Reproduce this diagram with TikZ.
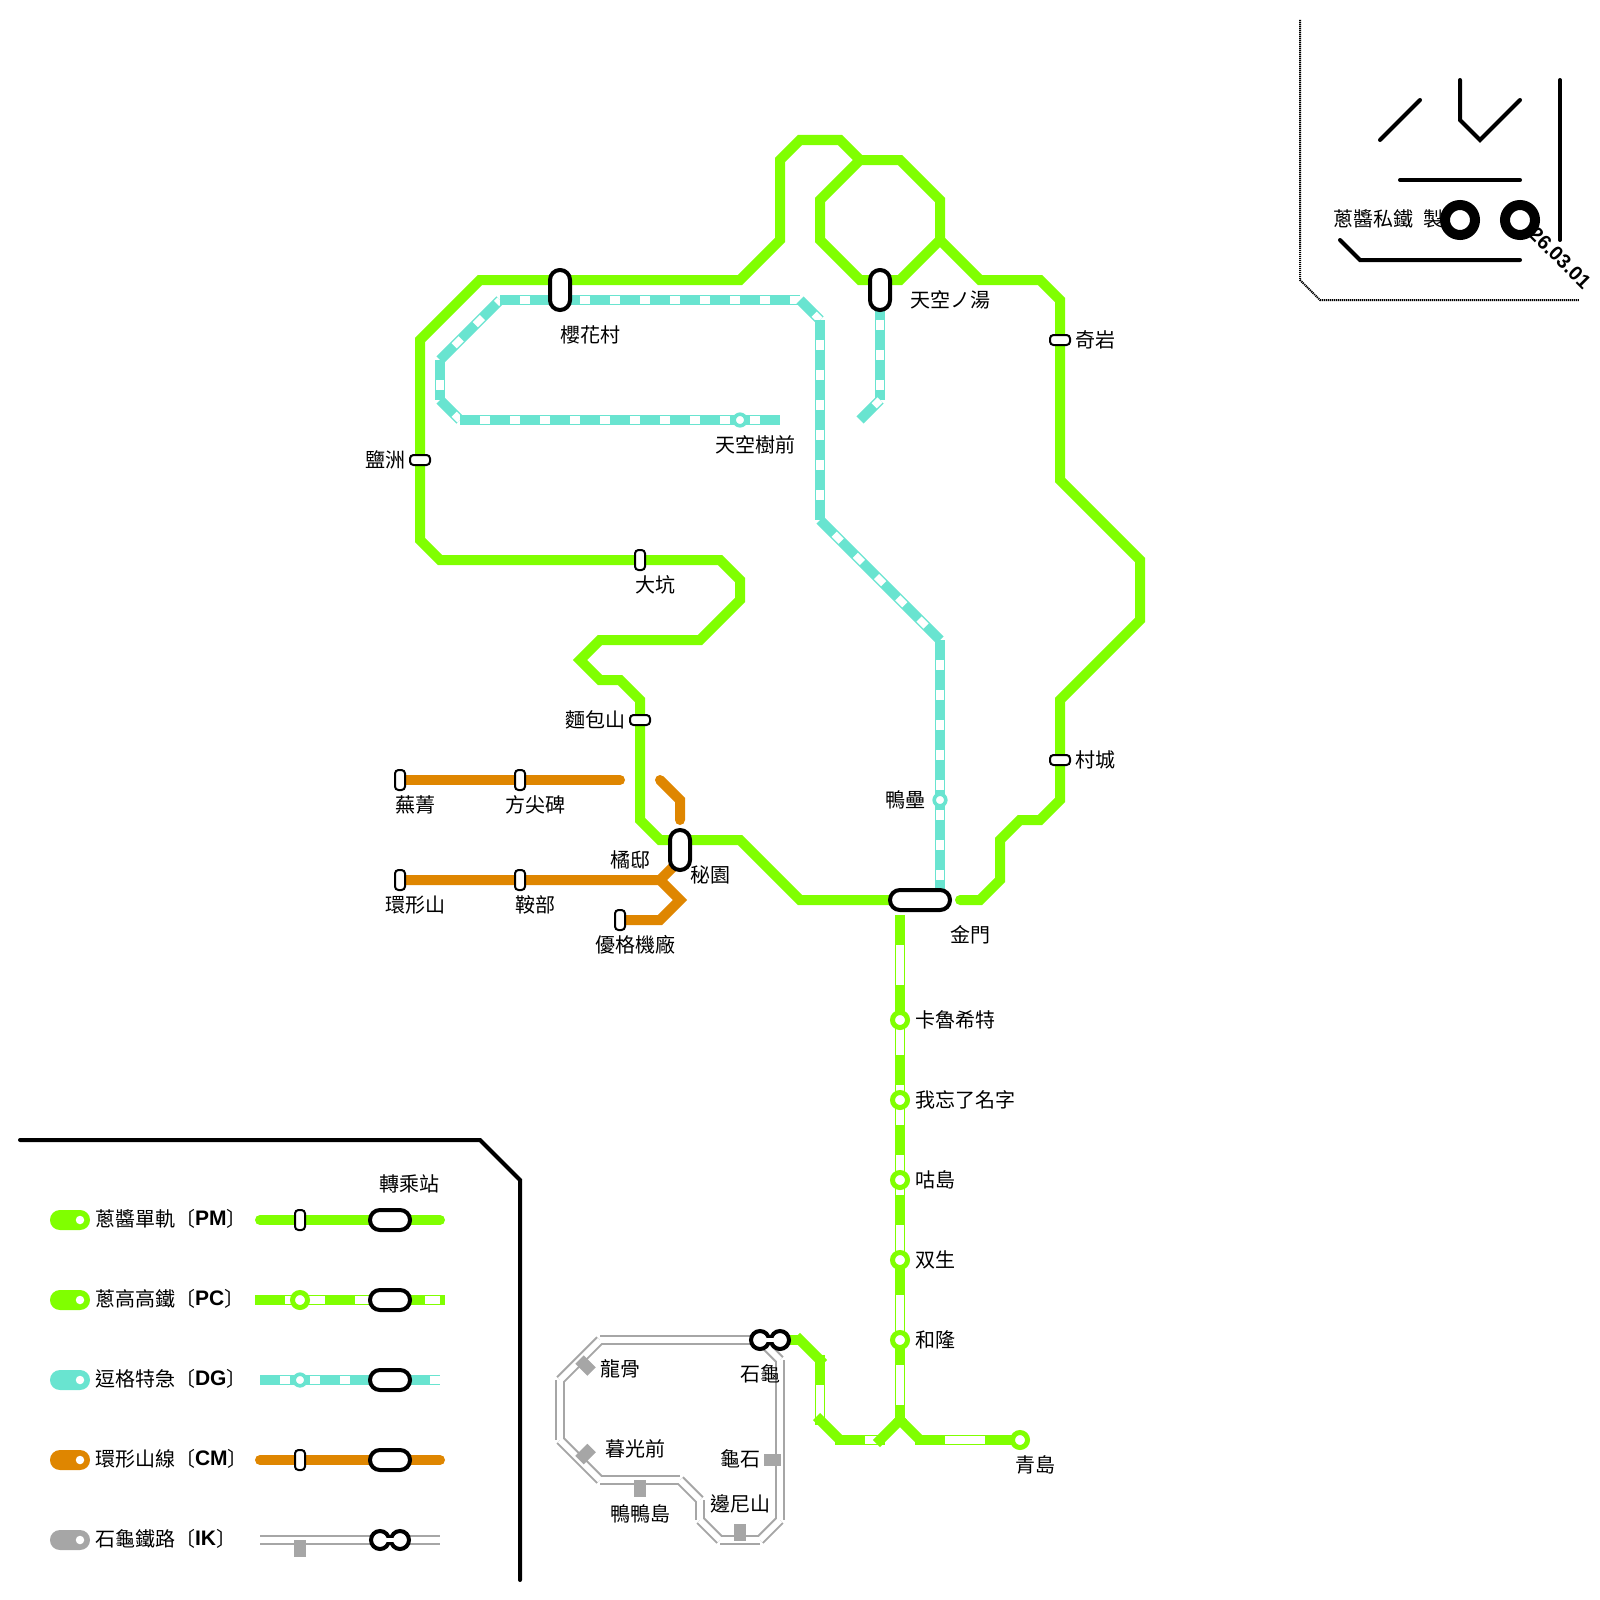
\documentclass[tikz,border=0pt]{standalone}
\usepackage{fontspec}
\setmainfont{Noto Sans CJK TC}
\newfontfamily\latinb{Liberation Sans}[BoldFont={Liberation Sans Bold}]
\usetikzlibrary{backgrounds}
\definecolor{pmg}{HTML}{80FF00}
\definecolor{dgc}{HTML}{69E4D0}
\definecolor{cmo}{HTML}{DF8600}
\definecolor{ikg}{HTML}{A6A6A6}
\tikzset{
  pmline/.style={draw=pmg,line width=10pt,line join=miter,line cap=butt},
  cmline/.style={draw=cmo,line width=10pt,line join=miter,line cap=round},
  pcbase/.style={draw=pmg,line width=10pt,line cap=rect},
  pcbutt/.style={draw=pmg,line width=10pt,line cap=butt},
  pcdash/.style={draw=white,line width=7.4pt,dash pattern=on 40pt off 30pt,dash phase=45pt},
  dgbase/.style={draw=dgc,line width=10pt},
  dgdash/.style={draw=white,line width=7.4pt,dash pattern=on 10pt off 20pt,dash phase=10pt},
  ikbase/.style={draw=ikg,line width=10pt},
  ikin/.style={draw=white,line width=6pt},
  blk/.style={draw=black,line width=4pt,line cap=round,line join=miter},
  frm/.style={draw=black,line width=2pt,dash pattern=on 1.2pt off 0.8pt},
  vstn/.style={rectangle,draw=black,fill=white,line width=2pt,minimum width=10pt,minimum height=20pt,rounded corners=3.5pt,inner sep=0pt,outer sep=0pt},
  hstn/.style={vstn,minimum width=20pt,minimum height=10pt},
  xv/.style={rectangle,draw=black,fill=white,line width=4pt,minimum width=20pt,minimum height=40pt,rounded corners=9.9pt,inner sep=0pt,outer sep=0pt},
  xh/.style={xv,minimum width=40pt,minimum height=20pt},
  xl/.style={xv,minimum width=60pt,minimum height=20pt},
  pcst/.style={circle,draw=pmg,fill=white,line width=5pt,minimum size=15pt,inner sep=0pt,outer sep=0pt},
  dgst/.style={circle,draw=dgc,fill=white,line width=3.6pt,minimum size=11.6pt,inner sep=0pt,outer sep=0pt},
  ikst/.style={rectangle,fill=ikg,minimum width=12pt,minimum height=17pt,inner sep=0pt,outer sep=0pt},
  ikinf/.style={circle,draw=black,fill=white,line width=4pt,minimum size=18pt,inner sep=0pt,outer sep=0pt},
  ring/.style={circle,draw=black,fill=white,line width=10pt,minimum size=30pt,inner sep=0pt,outer sep=0pt},
  lbl/.style={font=\fontsize{20pt}{24pt}\selectfont,text height=17pt,text depth=2pt,inner sep=0pt,outer sep=0pt,text=black},
  swatch/.style={rectangle,minimum width=40pt,minimum height=20pt,rounded corners=9.9pt,inner sep=0pt,outer sep=0pt},
  swdot/.style={circle,fill=white,minimum size=8.5pt,inner sep=0pt,outer sep=0pt},
}
\newcommand{\dgseg}[2]{\draw[dgbase] #1 -- #2; \draw[dgdash] #1 -- #2;}
\newcommand{\pcseg}[2]{\draw[pcbase] #1 -- #2; \draw[pcdash] #1 -- #2;}
\newcommand{\lcode}[1]{\raisebox{0.8pt}{\fontsize{21pt}{24pt}\selectfont\latinb\bfseries #1}}
\begin{document}
\begin{tikzpicture}[x=1pt,y=-1pt]
\useasboundingbox (0,0) rectangle (1600,1600);
% ---------- stations
\node[xv] (yinghua) at (560,290) {};
\node[xv] (tiankongtang) at (880,290) {};
\node[xv] (miyuan) at (680,850) {};
\node[xl] (jinmen) at (920,900) {};
\node[vstn] (dakeng) at (640,560) {};
\node[hstn] (yanzhou) at (420,460) {};
\node[hstn] (qiyan) at (1060,340) {};
\node[hstn] (miantiao) at (640,720) {};
\node[hstn] (cuncheng) at (1060,760) {};
\node[vstn] (wujing) at (400,780) {};
\node[vstn] (fangjian) at (520,780) {};
\node[vstn] (huanxing) at (400,880) {};
\node[vstn] (anbu) at (520,880) {};
\node[vstn] (youge) at (620,920) {};
\node[dgst] (tiankongshu) at (740,420) {};
\node[dgst] (yalei) at (940,800) {};
\node[pcst] (kalu) at (900,1020) {};
\node[pcst] (wowang) at (900,1100) {};
\node[pcst] (gudao) at (900,1180) {};
\node[pcst] (shuangsheng) at (900,1260) {};
\node[pcst] (helong) at (900,1340) {};
\node[pcst] (qingdao) at (1020,1440) {};
\node[ikinf] (shiguiA) at (760,1340) {};
\node[ikinf] (shiguiB) at (780,1340) {};
\draw[white,line width=4.5pt] (shiguiA.center) -- (shiguiB.center);
\node[ikst,rotate=45] (longgu) at (585.5,1365.5) {};
\node[ikst,rotate=-45] (muguang) at (585.5,1454) {};
\node[ikst] (yaya) at (640,1488) {};
\node[ikst] (bianni) at (740,1532) {};
\node[ikst,rotate=90] (guishi) at (772,1460) {};
% ---------- lines, under the stations
\begin{scope}[on background layer]
\draw[pmline] (jinmen.center) -- (800,900) -- (740,840) -- (660,840) -- (640,820) -- (640,700) -- (620,680) -- (600,680) -- (580,660) -- (600,640) -- (700,640) -- (740,600) -- (740,580) -- (720,560) -- (440,560) -- (420,540) -- (420,340) -- (480,280) -- (740,280) -- (780,240) -- (780,160) -- (800,140) -- (840,140) -- (860,160);
\draw[pmline] (860,160) -- (900,160) -- (940,200) -- (940,240) -- (900,280) -- (860,280) -- (820,240) -- (820,200) -- cycle;
\draw[pmline] (940,240) -- (980,280) -- (1040,280) -- (1060,300) -- (1060,480) -- (1140,560) -- (1140,620) -- (1060,700) -- (1060,800) -- (1040,820) -- (1020,820) -- (1000,840) -- (1000,880) -- (980,900) -- (960,900);
\fill[pmg] (960,900) circle (5pt);
% DG
\dgseg{(440,360)}{(500,300)}
\dgseg{(500,300)}{(800,300)}
\dgseg{(800,300)}{(820,320)}
\dgseg{(820,320)}{(820,520)}
\dgseg{(820,520)}{(940,640)}
\dgseg{(940,640)}{(940,900)}
\dgseg{(440,360)}{(440,400)}
\dgseg{(440,400)}{(460,420)}
\dgseg{(460,420)}{(780,420)}
\dgseg{(880,300)}{(880,400)}
\dgseg{(860,420)}{(880,400)}
% PC
\pcseg{(800,1340)}{(820,1360)}
\pcseg{(820,1360)}{(820,1420)}
\pcseg{(840,1440)}{(880,1440)}
\pcseg{(920,1440)}{(1020,1440)}
\draw[pcbutt] (816.5,1416.5) -- (840,1440);
\pcseg{(900,920)}{(900,1420)}
\draw[pcbase] (880,1440) -- (900,1420);
\draw[pcbutt] (920,1440) -- (896.5,1416.5);
\draw[pmline] (shiguiB.center) -- (800,1340);
% CM
\draw[cmline] (wujing.center) -- (620,780);
\draw[cmline] (660,780) -- (680,800) -- (680,820);
\draw[cmline] (huanxing.center) -- (660,880) -- (680,860);
\draw[cmline] (660,880) -- (680,900) -- (660,920) -- (youge.center);
% IK
\foreach \xa/\ya/\xb/\yb in {600/1340/760/1340,560/1380/600/1340,560/1440/560/1380,600/1480/560/1440,680/1480/600/1480,700/1500/680/1480,700/1520/700/1500,720/1540/700/1520,760/1540/720/1540,780/1520/760/1540,780/1360/780/1520,760/1340/780/1360}{\draw[ikbase] (\xa,\ya) -- (\xb,\yb);}
\foreach \xa/\ya/\xb/\yb in {600/1340/760/1340,560/1380/600/1340,560/1440/560/1380,600/1480/560/1440,680/1480/600/1480,700/1500/680/1480,700/1520/700/1500,720/1540/700/1520,760/1540/720/1540,780/1520/760/1540,780/1360/780/1520,760/1340/780/1360}{\draw[ikin] (\xa,\ya) -- (\xb,\yb);}
\end{scope}
% ---------- station labels
\node[lbl] (t1) at (590,335) {櫻花村};
\node[lbl] (t2) at (950,300) {天空ノ湯};
\node[lbl] (t3) at (1095,340) {奇岩};
\node[lbl] (t4) at (385,460) {鹽洲};
\node[lbl] (t5) at (755,445) {天空樹前};
\node[lbl] (t6) at (655,585) {大坑};
\node[lbl] (t7) at (595,720) {麵包山};
\node[lbl] (t8) at (415,805) {蕪菁};
\node[lbl] (t9) at (535,805) {方尖碑};
\node[lbl] (t10) at (415,905) {環形山};
\node[lbl] (t11) at (535,905) {鞍部};
\node[lbl] (t12) at (630,860) {橘邸};
\node[lbl] (t13) at (710,875) {秘園};
\node[lbl] (t14) at (635,945) {優格機廠};
\node[lbl] (t15) at (970,935) {金門};
\node[lbl] (t16) at (905,800) {鴨壘};
\node[lbl] (t17) at (1095,760) {村城};
\node[lbl] (t18) at (955,1020) {卡魯希特};
\node[lbl] (t19) at (965,1100) {我忘了名字};
\node[lbl] (t20) at (935,1180) {咕島};
\node[lbl] (t21) at (935,1260) {双生};
\node[lbl] (t22) at (935,1340) {和隆};
\node[lbl] (t23) at (1035,1465) {青島};
\node[lbl] (t24) at (760,1374) {石龜};
\node[lbl] (t25) at (620,1369) {龍骨};
\node[lbl] (t26) at (635,1449) {暮光前};
\node[lbl] (t27) at (640,1514) {鴨鴨島};
\node[lbl] (t28) at (740,1504) {邊尼山};
\node[lbl] (t29) at (740,1459) {龜石};
% ---------- legend frame
\coordinate (fa) at (20,1140);
\coordinate (fb) at (480,1140);
\coordinate (fc) at (520,1180);
\coordinate (fd) at (520,1580);
\draw[blk] (fa) -- (fb) -- (fc) -- (fd);
\node[lbl] (t30) at (409.5,1184) {轉乘站};
% legend rows
\newcommand{\swrow}[4]{%
  \node[swatch,fill=#1] (sw#2) at (70,#3) {};
  \node[swdot] (swd#2) at (80,#3) {};
  \node[lbl,anchor=west] (swl#2) at (95,#3-1) {#4};
}
\swrow{pmg}{a}{1220}{蔥醬單軌〔\lcode{PM}〕}
\swrow{pmg}{b}{1300}{蔥高高鐵〔\lcode{PC}〕}
\swrow{dgc}{c}{1380}{逗格特急〔\lcode{DG}〕}
\swrow{cmo}{d}{1460}{環形山線〔\lcode{CM}〕}
\swrow{ikg}{e}{1540}{石龜鐵路〔\lcode{IK}〕}
\node[vstn] (la) at (300,1220) {};
\node[xh] (lax) at (390,1220) {};
\node[pcst] (lb) at (300,1300) {};
\node[xh] (lbx) at (390,1300) {};
\node[dgst] (lc) at (300,1380) {};
\node[xh] (lcx) at (390,1380) {};
\node[vstn] (ld) at (300,1460) {};
\node[xh] (ldx) at (390,1460) {};
\node[ikst] (le) at (300,1548) {};
\node[ikinf] (leA) at (380,1540) {};
\node[ikinf] (leB) at (400,1540) {};
\draw[white,line width=4.5pt] (leA.center) -- (leB.center);
\begin{scope}[on background layer]
\draw[draw=pmg,line width=10pt,line cap=round] (260,1220) -- (440,1220);
\pcseg{(260,1300)}{(440,1300)}
\dgseg{(260,1380)}{(440,1380)}
\draw[draw=cmo,line width=10pt,line cap=round] (260,1460) -- (440,1460);
\draw[ikbase] (260,1540) -- (440,1540);
\draw[ikin] (260,1540) -- (440,1540);
\end{scope}
% ---------- title block
\coordinate (ba) at (1300,20);
\coordinate (bb) at (1300,280);
\coordinate (bc) at (1320,300);
\coordinate (bd) at (1579,300);
\draw[frm] (ba) -- (bb) -- (bc) -- (bd);
\node[lbl,anchor=west] (maker) at (1333,219) {蔥醬私鐵\hspace{10pt}製};
\node[ring] (ringa) at (1460,220) {};
\node[ring] (ringb) at (1520,220) {};
\coordinate (ka) at (1380,140);
\coordinate (kb) at (1420,100);
\draw[blk] (ka) -- (kb);
\coordinate (kc) at (1460,80);
\coordinate (kd) at (1460,120);
\coordinate (ke) at (1480,140);
\coordinate (kf) at (1520,100);
\draw[blk] (kc) -- (kd) -- (ke) -- (kf);
\coordinate (kg) at (1560,80);
\coordinate (kh) at (1560,240);
\draw[blk] (kg) -- (kh);
\coordinate (ki) at (1400,180);
\coordinate (kj) at (1520,180);
\draw[blk] (ki) -- (kj);
\coordinate (kk) at (1340,240);
\coordinate (kl) at (1360,260);
\coordinate (km) at (1520,260);
\draw[blk] (kk) -- (kl) -- (km);
\node[font=\fontsize{20pt}{24pt}\selectfont\latinb\bfseries,rotate=-45,inner sep=0pt] (date) at (1560,258) {26.03.01};
\end{tikzpicture}
\end{document}
